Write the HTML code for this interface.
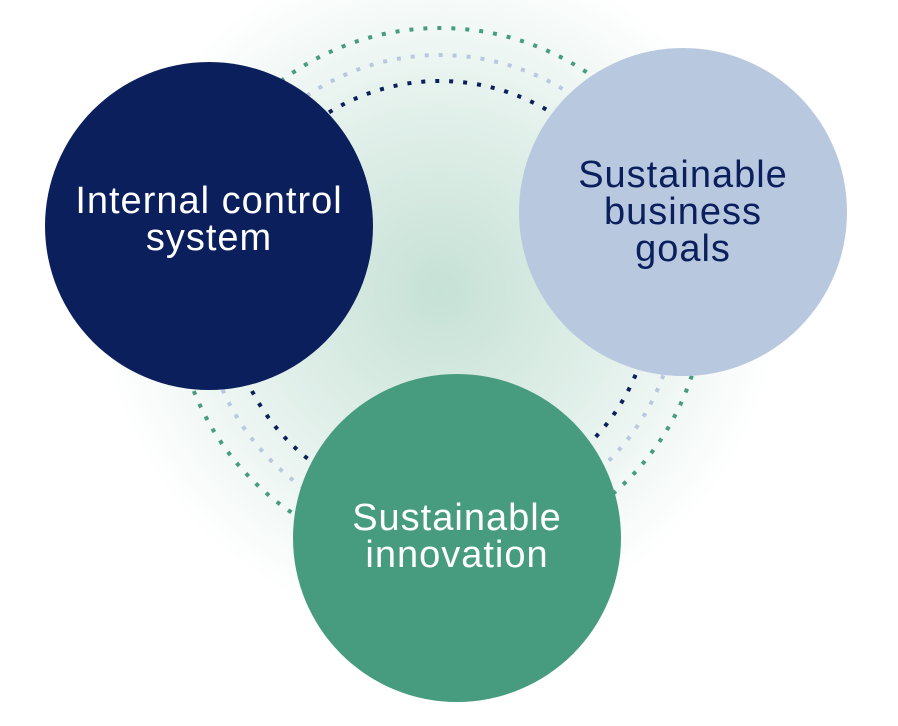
<!DOCTYPE html>
<html><head><style>
body{margin:0;background:#fff;}
svg{display:block}
text{font-family:"Liberation Sans",sans-serif;font-size:38px;letter-spacing:1px;text-anchor:middle}
</style></head><body>
<svg width="898" height="726" viewBox="0 0 898 726">
<defs>
<radialGradient id="g" cx="440" cy="290" r="340" gradientUnits="userSpaceOnUse">
<stop offset="0" stop-color="#c6e1d6"/>
<stop offset="0.5" stop-color="#e0efe9"/>
<stop offset="1" stop-color="#ffffff"/>
</radialGradient>
</defs>
<rect width="898" height="726" fill="#fff"/>
<circle cx="440" cy="290" r="340" fill="url(#g)"/>
<circle cx="440" cy="293" r="265" fill="none" stroke="#479c80" stroke-width="4" stroke-dasharray="4 10"/>
<circle cx="440" cy="293" r="238" fill="none" stroke="#b8c8df" stroke-width="4" stroke-dasharray="4 10"/>
<circle cx="440" cy="293" r="212" fill="none" stroke="#0a1f5c" stroke-width="4" stroke-dasharray="4 10"/>
<circle cx="209" cy="226" r="164" fill="#0a1f5c"/>
<circle cx="683" cy="212" r="164" fill="#b8c8df"/>
<circle cx="457" cy="538" r="164" fill="#479c80"/>
<text x="209" y="213" fill="#fff">Internal control</text>
<text x="209" y="250" fill="#fff">system</text>
<text x="683" y="187" fill="#0a1f5c">Sustainable</text>
<text x="683" y="224" fill="#0a1f5c">business</text>
<text x="683" y="261" fill="#0a1f5c">goals</text>
<text x="457" y="530" fill="#fff">Sustainable</text>
<text x="457" y="567" fill="#fff">innovation</text>
</svg>
</body></html>
